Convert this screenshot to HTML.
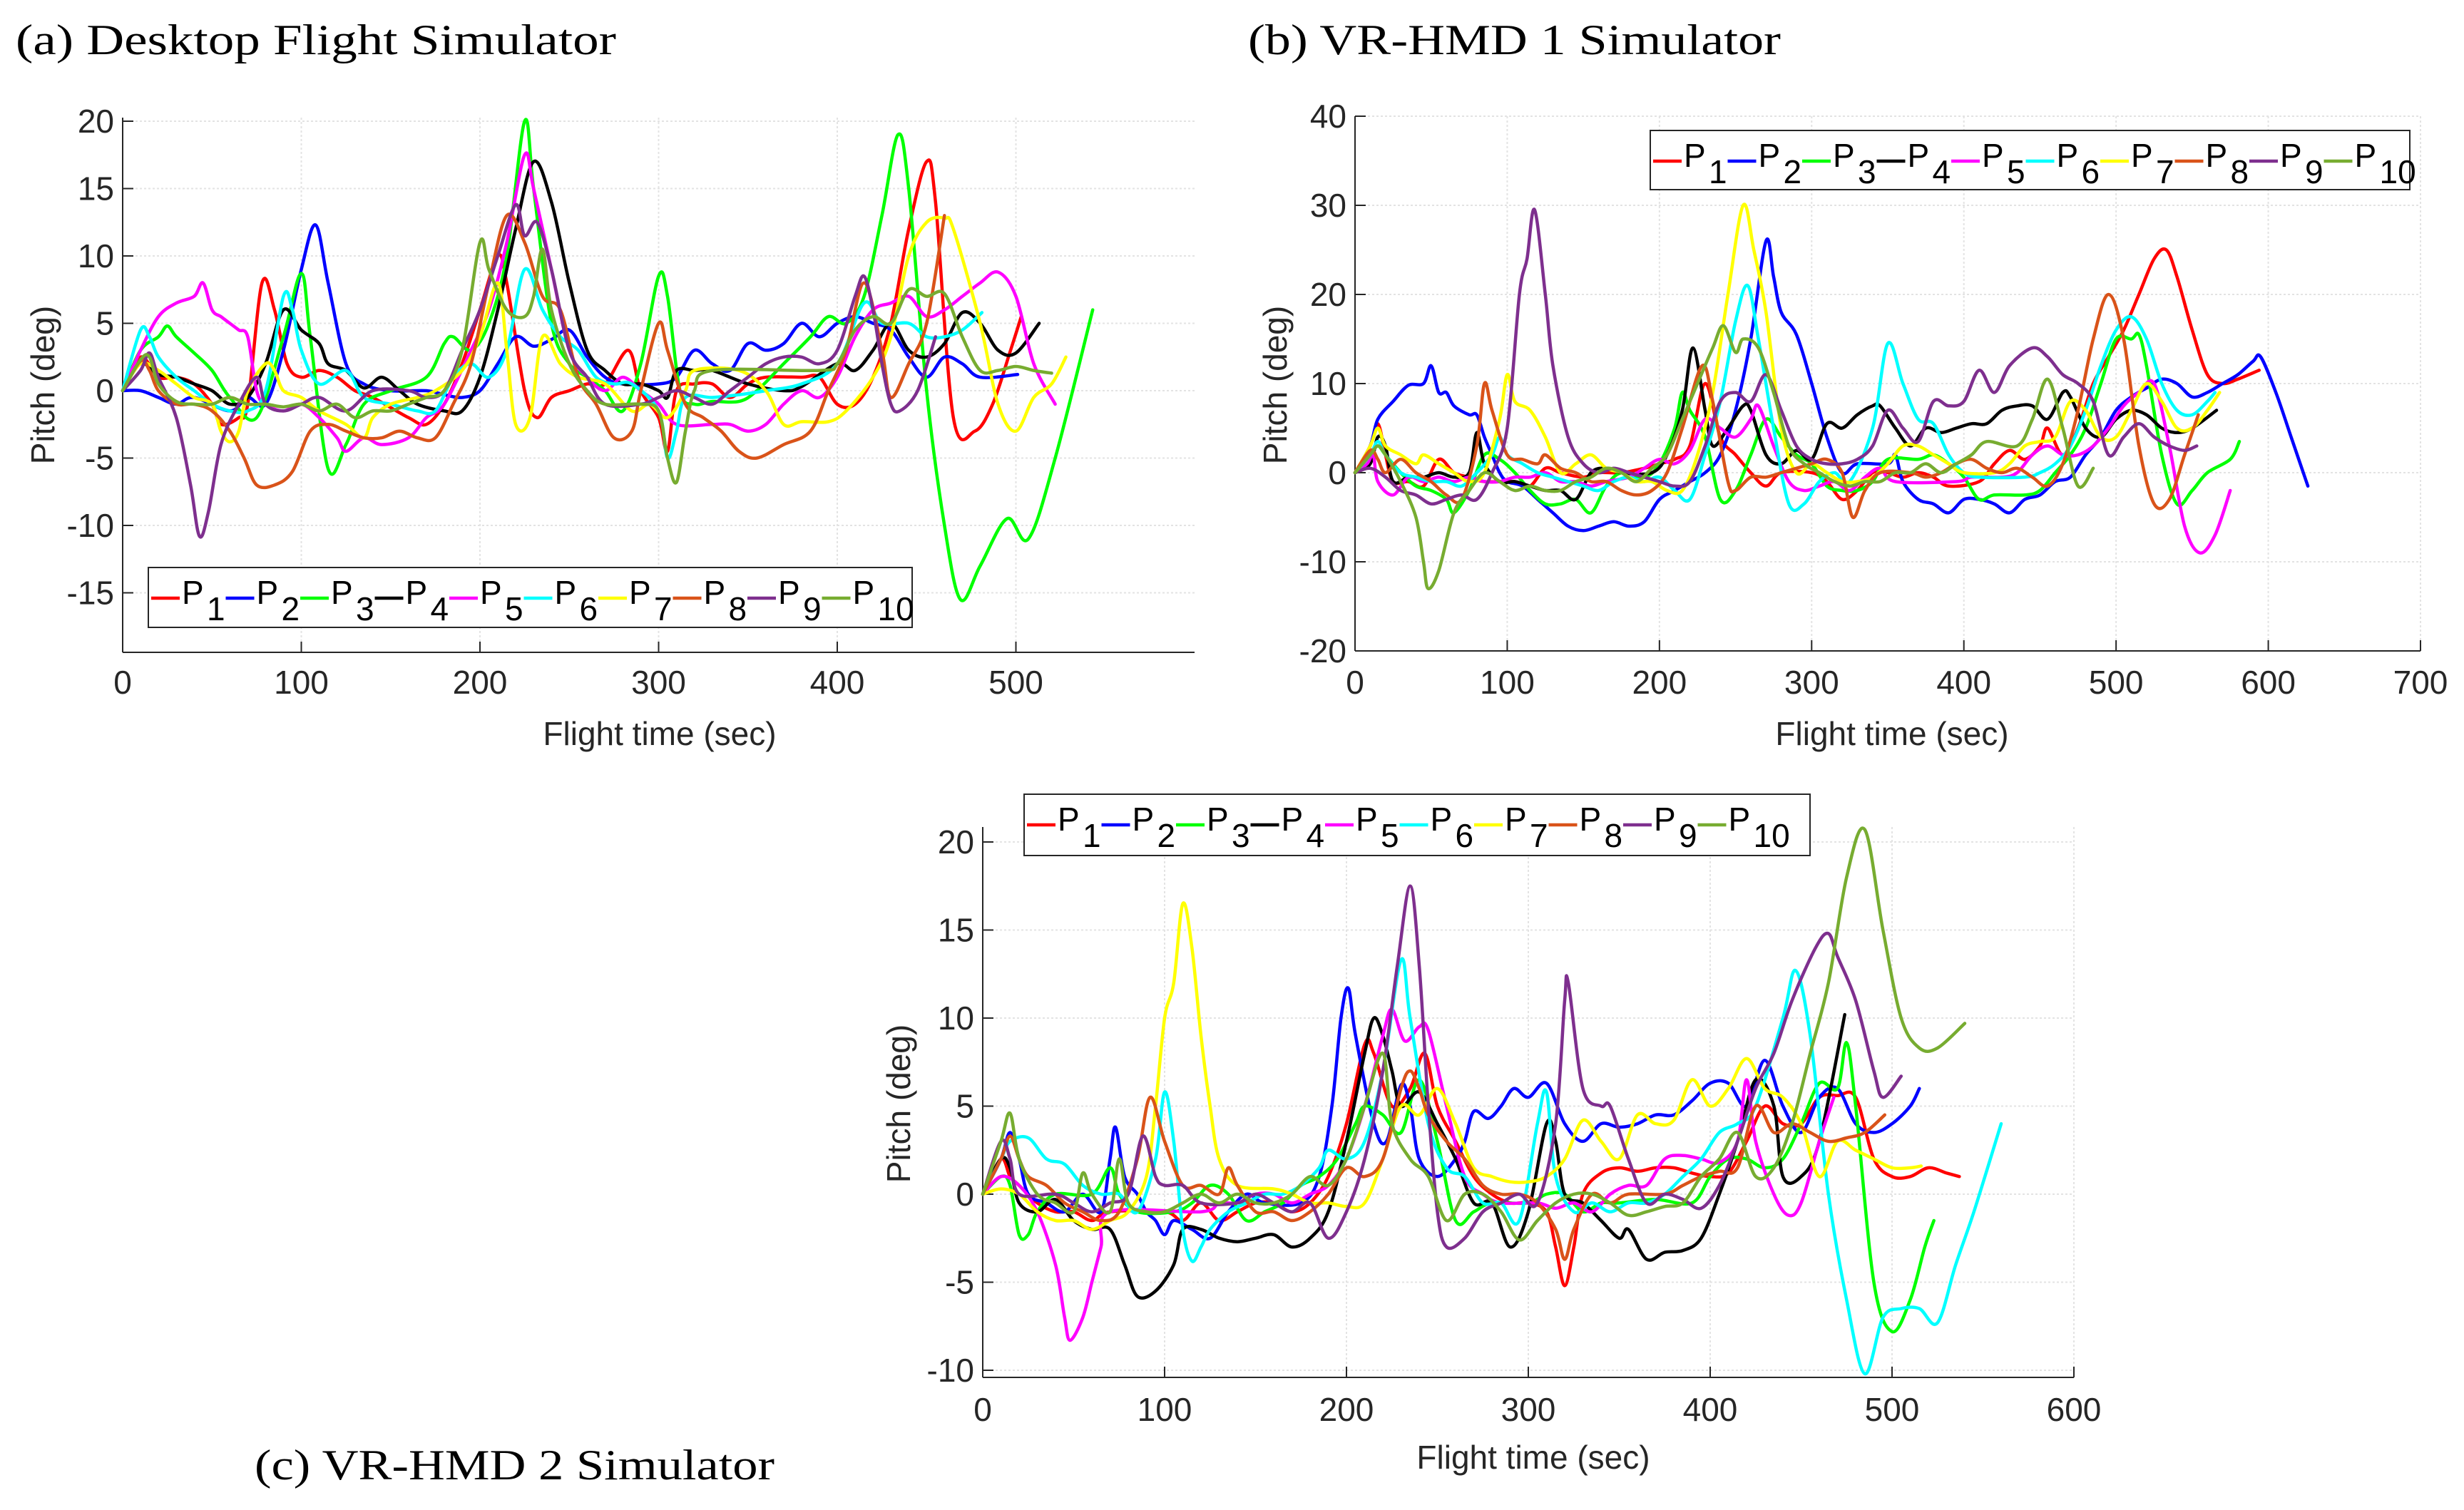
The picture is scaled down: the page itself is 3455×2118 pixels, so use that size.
<!DOCTYPE html>
<html><head><meta charset="utf-8"><style>
html,body{margin:0;padding:0;background:#fff;}
svg{display:block;}
text{font-family:"Liberation Sans",sans-serif;}
.title{font-family:"Liberation Serif",serif;font-size:60px;fill:#000;}
.tick{font-size:46px;fill:#262626;}
.lab{font-size:46px;fill:#262626;}
</style></head><body>
<svg id="fig" width="3455" height="2118" viewBox="0 0 3455 2118" xmlns="http://www.w3.org/2000/svg">
<text class="title" x="22" y="76" textLength="842" lengthAdjust="spacingAndGlyphs">(a) Desktop Flight Simulator</text>
<text class="title" x="1750" y="76" textLength="747" lengthAdjust="spacingAndGlyphs">(b) VR-HMD 1 Simulator</text>
<text class="title" x="357" y="2075" textLength="729" lengthAdjust="spacingAndGlyphs">(c) VR-HMD 2 Simulator</text>
<g id="pa"></g>
<g id="pb"></g>
<g id="pc"></g>
</svg>
<script>
const colors = ["#ff0000","#0000ff","#00ff00","#000000","#ff00ff","#00ffff","#ffff00","#d95319","#7e2f8e","#77ac30"];
const seriesNames = ["1","2","3","4","5","6","7","8","9","10"];
const aXTicks = [0,100,200,300,400,500];
const aYTicks = [-15,-10,-5,0,5,10,15,20];
const bXTicks = [0,100,200,300,400,500,600,700];
const bYTicks = [-20,-10,0,10,20,30,40];
const cXTicks = [0,100,200,300,400,500,600];
const cYTicks = [-10,-5,0,5,10,15,20];

const aP1 = [[0,0],[10,2.5],[20,1],[30,1],[40,0.5],[50,-1],[55,-2.5],[65,-2],[70,-1],[78,8],[85,6],[92,2],[100,1],[110,1.5],[120,1],[130,0],[140,-0.5],[160,-2],[170,-2.5],[180,-1],[190,2],[200,6],[210,10],[215,8],[225,0],[232,-2],[240,-0.5],[250,0],[260,0.5],[270,0.5],[283,3],[290,0],[300,-2],[305,-4.5],[310,0],[320,0.5],[330,0.5],[340,-0.5],[350,0.5],[360,1],[380,1],[390,1],[400,-1],[410,-1],[420,1],[430,5],[440,12],[450,17],[455,14],[465,-2],[477,-3],[487,-1],[497,3],[503,5.5]];
const aP2 = [[0,0],[10,0],[20,-0.5],[30,-1],[40,-0.5],[60,-1.5],[70,-0.5],[80,-1],[90,3],[100,9],[108,12.3],[115,8],[125,2],[135,0.5],[150,0],[170,0],[180,-0.3],[190,-0.5],[200,0],[210,2],[220,4],[230,3.3],[240,3.8],[250,4.5],[260,2.5],[270,1],[280,0.5],[300,0.5],[310,1],[320,3],[330,2],[340,1.5],[350,3.5],[360,3],[370,3.5],[380,5],[390,4],[400,5],[410,5.5],[420,5],[430,4.5],[440,2.5],[450,1],[460,2.5],[470,2],[480,1],[501,1.2]];
const aP3 = [[0,0],[10,3],[20,4],[25,4.8],[30,4],[40,2.8],[50,1.5],[60,-0.5],[75,-2],[90,4],[100,8.7],[105,4],[115,-5.8],[125,-4],[135,-1],[150,0],[170,1],[180,3.5],[185,4],[195,3],[205,5],[215,10],[225,20],[230,15],[240,5],[250,2],[260,1],[270,0],[280,-1.5],[290,2],[300,8.5],[305,7],[312,0],[320,-1],[330,-0.8],[345,-0.8],[355,0],[370,2],[385,4],[395,5.5],[405,5],[415,7],[425,13],[434,19],[440,15],[450,0],[460,-10],[469,-15.5],[480,-13],[495,-9.5],[507,-11],[522,-5],[543,6]];
const aP4 = [[0,0],[10,2],[20,1.2],[30,1],[40,0.5],[50,0],[60,-1],[70,-0.5],[80,2],[90,6],[100,4.5],[110,3.5],[115,2],[125,1.5],[135,0.2],[145,1],[155,0],[165,-1],[180,-1.5],[190,-1.5],[200,1],[210,6],[220,12],[230,17],[240,14],[250,8],[260,3],[270,1.5],[280,0.5],[290,0.5],[300,0],[305,-0.5],[310,1.5],[320,1.5],[330,1.5],[350,0.5],[370,0],[380,0.3],[400,2],[410,1.5],[420,3],[430,5],[440,3],[450,2.5],[460,3.5],[470,5.8],[480,5],[490,3],[500,2.8],[513,5]];
const aP5 = [[0,0],[10,3],[20,5.5],[30,6.5],[40,7],[45,8],[50,6],[55,5.5],[60,5],[65,4.5],[70,4],[75,0],[80,-1],[90,-1.5],[100,-1],[110,-2],[120,-3.5],[125,-4.5],[135,-3.5],[145,-4],[160,-3.5],[170,-2],[180,-1],[195,3],[205,6],[215,11],[225,17.5],[230,15],[240,9],[250,3],[260,1],[270,0],[280,1],[290,0],[300,-1],[310,-2.5],[330,-2.5],[340,-2.5],[350,-3],[360,-2.5],[370,-1],[380,0],[390,-0.5],[400,1],[410,4],[420,6],[430,6.5],[440,7],[450,5.5],[460,6],[470,7],[480,8],[490,8.8],[500,7],[510,2],[522,-1]];
const aP6 = [[0,0],[10,4.5],[15,4],[20,2.5],[30,1],[40,0],[50,-1],[60,-1.5],[70,-1.5],[80,0],[90,7],[95,6],[100,3],[110,0.5],[125,1.5],[135,-0.5],[150,-1],[165,-1.5],[175,-1.5],[185,1],[195,2],[205,1],[215,3],[225,9],[235,6],[245,4],[255,3],[265,1],[275,0.5],[285,0.5],[300,-1.5],[305,-5],[310,-3],[315,-0.5],[330,-0.5],[345,-0.3],[360,0],[380,0.5],[400,2],[415,6.5],[425,5],[440,5],[450,4],[460,4],[470,4.5],[481,5.8]];
const aP7 = [[0,0],[10,2],[20,1.5],[30,0.5],[40,-0.5],[50,-1],[55,-3],[60,-3.8],[65,-3],[70,0],[80,2],[85,1.5],[90,0],[100,-0.5],[110,-1.5],[125,-2.5],[135,-3.5],[140,-2],[150,-1],[165,-0.5],[175,0],[190,1.5],[200,4],[210,8],[215,3],[220,-2.5],[228,-2],[235,4],[245,2],[255,1],[270,0.5],[285,-1.5],[295,-1],[305,-2],[315,0],[320,1.5],[345,1.5],[360,0],[370,-2.5],[380,-2.3],[395,-2.3],[405,-1.5],[420,1],[430,4],[440,10],[450,12.5],[460,12.8],[465,12],[480,5],[490,-1],[500,-3],[510,-0.5],[520,0.5],[528,2.5]];
const aP8 = [[0,0],[10,2.2],[15,1.5],[20,0],[30,-1],[40,-1],[50,-1.5],[60,-3],[68,-5],[75,-7],[85,-7],[95,-6],[105,-3],[115,-2.5],[125,-3],[135,-3.5],[145,-3.5],[155,-3],[165,-3.5],[175,-3.5],[185,-1],[195,2],[205,8],[215,13],[225,11],[235,7],[245,6],[255,1],[265,-1],[275,-3.5],[285,-3],[290,0],[300,5],[305,3],[315,-1],[325,-2],[335,-3],[345,-4.5],[355,-5],[370,-4],[385,-3],[395,0],[405,3],[415,8],[425,3],[430,-0.5],[440,2],[450,5],[460,13]];
const aP9 = [[0,0],[10,1.5],[15,2.8],[20,1],[30,-2],[38,-7],[43,-10.8],[48,-9],[55,-4],[65,-1],[75,1],[80,-1],[90,-1.5],[100,-1],[110,-0.5],[125,-1.5],[140,0],[160,0],[170,-0.5],[180,0],[190,3],[200,6],[210,10],[220,13.8],[225,11.5],[232,12.5],[240,9],[250,3],[260,1],[270,-1],[290,-1],[300,-0.5],[310,0],[320,-0.5],[330,-1],[340,0],[350,1],[360,2],[370,2.5],[380,2.5],[390,2],[400,3],[410,7],[415,8.5],[420,6],[425,2],[430,-1],[435,-1.5],[445,0],[455,4]];
const aP10 = [[0,0],[10,2.3],[15,2.5],[20,0.5],[30,-0.8],[40,-1],[50,-1],[60,-0.5],[70,-1],[80,-1],[90,-1.2],[100,-1],[110,-1.5],[120,-1],[130,-2],[140,-1.5],[150,-1.5],[160,-1],[170,-0.5],[180,0],[190,3],[200,11],[205,9],[215,6],[225,5.5],[230,7],[235,10.5],[240,6],[250,2],[260,0],[270,-1],[290,-1],[300,-1.5],[305,-5],[310,-6.8],[315,-3],[320,0],[330,1.5],[390,1.5],[400,2],[410,4.5],[420,5.5],[430,5],[440,7.5],[450,7],[460,7.2],[470,4],[480,1.5],[490,1.5],[500,1.8],[510,1.5],[520,1.3]];

const bP1 = [[0,0],[10,3],[15,5.5],[20,2],[25,-1],[35,-1],[45,-1.5],[55,1.5],[65,0],[75,-0.5],[85,-1],[105,-1],[115,-1.5],[125,0.5],[135,0],[150,-0.5],[160,0],[175,0],[190,0.5],[200,1],[210,1.5],[220,3],[230,10],[240,4],[250,2],[260,0],[270,-1.5],[280,0],[300,0],[310,-1],[320,-3],[330,-2],[340,0],[350,0],[360,-0.5],[370,0],[380,-0.5],[390,-1.5],[410,-1],[420,1],[430,2.5],[440,1.5],[450,3],[455,5],[465,2],[475,5],[485,10],[495,13],[505,16],[515,20],[525,24],[533,25],[540,22],[550,16],[560,11],[570,10],[580,10.5],[594,11.5]];
const bP2 = [[0,0],[10,3],[15,6],[25,8],[35,9.8],[45,10],[50,12],[55,9],[60,9],[65,7.5],[75,6.5],[80,6.5],[85,4],[90,2],[95,0],[100,-1],[110,-1.5],[120,-3],[130,-4.5],[140,-6],[150,-6.5],[160,-6],[170,-5.5],[180,-6],[190,-5.5],[200,-3],[210,-2],[220,-1],[230,0],[240,2],[250,7],[260,15],[270,26],[275,22],[280,18],[290,15.5],[300,10],[310,4],[320,0],[330,1],[350,1],[355,2],[360,-1],[370,-3],[380,-3.5],[390,-4.5],[400,-3],[410,-3],[420,-3.5],[430,-4.5],[440,-3],[450,-2.5],[460,-1],[470,-0.5],[480,2],[490,4],[500,7],[510,8.5],[520,9.5],[530,10.5],[540,10],[550,8.5],[560,9],[570,10],[580,11],[590,12.5],[595,13],[605,9],[615,4],[626,-1.5]];
const bP3 = [[0,0],[10,2],[15,3],[20,2],[30,0],[40,-1.5],[50,-2],[60,-3],[65,-4.5],[75,-2],[85,2],[95,1.5],[105,0],[115,-2],[125,-3.5],[135,-3.5],[145,-3],[155,-4.5],[165,-1.5],[175,0],[190,-0.5],[200,1],[210,5],[215,9],[220,7],[230,4],[240,-3],[250,-2],[260,2],[270,6],[280,4],[290,2],[300,1],[310,-1.5],[320,-2],[330,-2],[340,-1],[350,1.5],[370,1.5],[380,2],[390,1],[400,-0.5],[410,-3],[420,-2.5],[440,-2.5],[450,-2],[460,0],[470,2],[480,5],[490,10],[500,15],[510,15],[515,15.5],[520,12],[530,2],[540,-3.5],[550,-2],[560,0],[575,1.5],[581,3.5]];
const bP4 = [[0,0],[10,1],[15,4],[20,3],[25,-1],[35,-0.5],[45,-0.5],[55,0],[65,-0.5],[75,0],[80,4.5],[85,1],[95,-1],[105,-1],[115,-1.5],[125,-2],[135,-2],[145,-3],[155,0],[165,0.5],[175,0],[195,0],[205,2],[215,7],[222,14],[230,7],[235,3],[245,5],[255,7.5],[260,7],[270,2],[280,1],[290,2.5],[300,1.5],[310,5.5],[320,5],[330,6.5],[340,7.5],[345,7.5],[355,5],[365,3],[375,5],[385,4.5],[395,5],[405,5.5],[415,5.5],[425,7],[435,7.5],[445,7.5],[455,6],[465,9],[470,8.5],[480,5],[490,4],[500,6],[510,7],[520,6.5],[530,5],[540,4.5],[550,5],[566,7]];
const bP5 = [[0,0],[8,1],[12,2],[15,-1],[25,-2.5],[35,-0.5],[45,-1],[55,-0.5],[65,-1],[75,-0.5],[85,-1],[95,-1],[105,-0.5],[115,-0.5],[125,0],[135,-1],[145,-1],[155,-1.5],[165,-1],[180,-0.5],[190,0.5],[200,1.5],[210,1],[220,2.5],[230,6],[240,5],[250,4],[260,6],[265,7.5],[275,3],[285,-1],[295,-2],[305,-1.5],[315,-1],[325,-2],[335,-0.5],[345,0.5],[355,-1],[395,-1],[405,-0.5],[425,-0.5],[435,0],[445,2],[455,3],[465,2],[475,2],[485,3],[495,5],[505,7.5],[515,9],[525,10],[535,3],[545,-6],[555,-9],[565,-7],[575,-2]];
const bP6 = [[0,0],[10,2],[15,3.5],[20,2],[30,0],[40,-0.5],[50,-1],[60,-1],[70,-1.5],[80,0],[90,2],[95,4],[100,2],[110,1],[120,0],[130,-0.5],[140,-1],[150,-1.5],[160,-2],[170,-1],[180,-0.5],[190,-1],[200,-0.5],[210,-2],[220,-3],[230,2],[240,8],[250,17],[258,21],[265,15],[275,5],[285,-3.5],[295,-3.5],[305,-1],[315,0],[325,-1],[340,5],[350,14.5],[360,10],[370,6],[380,5.5],[390,2],[400,0],[410,-0.5],[440,-0.5],[450,0],[460,1],[470,3],[480,7],[490,12],[500,16],[510,17.5],[520,15],[530,10],[540,7],[550,6.5],[560,8],[565,9]];
const bP7 = [[0,0],[10,3],[15,5],[20,3],[30,2],[40,1],[45,2],[55,1],[65,0],[75,-1],[85,0],[95,6],[100,11],[105,8],[115,7],[125,4],[135,0],[145,1],[155,2],[165,0.5],[175,0],[185,-1],[195,-1],[205,-2],[215,-2],[225,2],[235,9],[245,20],[255,30],[262,25],[270,18],[280,5],[290,0],[300,1],[310,0],[320,-1],[330,-1],[340,-0.5],[350,1],[360,3],[370,3],[380,2],[390,1],[400,0],[420,0],[430,1],[440,3],[450,3.5],[460,4],[470,8],[480,7],[490,4],[500,4],[510,7],[520,10],[530,8],[540,5],[550,5],[560,7],[568,9]];
const bP8 = [[0,0],[10,2.5],[15,1.5],[20,0],[30,1.5],[40,0],[50,-1],[60,-2.5],[70,-3],[80,3],[85,10],[90,7],[100,2],[110,1.5],[120,1],[125,2],[135,0.5],[145,0],[155,-1],[165,-1],[175,-2],[185,-2.5],[195,-2],[205,0],[215,5],[228,12],[235,8],[245,-1],[250,-2],[260,-0.5],[270,-0.5],[280,0],[290,0.5],[300,1],[310,1.5],[320,0],[327,-5],[335,-2],[345,0],[365,0],[375,-0.5],[385,0],[395,1],[405,1.5],[415,0.5],[425,0],[435,0.5],[445,-0.5],[455,-1.5],[465,1],[475,7],[485,15],[495,20],[505,15],[515,3],[525,-3.5],[535,-3],[545,2],[554,6.5]];
const bP9 = [[0,0],[10,0.5],[20,-0.5],[30,-2],[40,-2.5],[50,-3.5],[60,-3],[70,-2.5],[80,-3],[90,0],[100,5],[108,20],[113,24],[118,29.5],[125,20],[130,12],[140,4],[150,1],[160,0],[170,0.5],[180,0],[190,-0.5],[200,-1],[210,-1.5],[220,-1],[230,3],[240,8],[250,9],[260,8],[270,11],[280,7],[290,3],[300,1.5],[310,1],[320,1],[330,1.5],[340,3],[350,7],[360,5],[370,3.5],[380,8],[390,7.5],[400,8],[410,11.5],[420,9],[430,12],[445,14],[455,13],[465,11],[475,10],[485,8],[495,2],[505,4],[515,5.5],[525,4],[535,3],[545,2.5],[553,3]];
const bP10 = [[0,0],[10,2],[15,3],[20,2],[30,-1],[40,-5],[45,-10],[48,-13],[55,-11],[65,-4.5],[75,-2],[85,0],[95,-1],[105,-2],[115,-1.5],[125,-2],[135,-2],[145,-1],[155,-0.5],[165,0.5],[175,0],[185,-1],[195,0.5],[205,2],[215,6],[225,10],[235,14],[242,16.5],[250,13.5],[255,15],[265,14],[275,9],[285,3],[295,1],[305,0],[315,-1],[325,-1.5],[335,-1],[345,-1],[355,0],[365,0],[375,1],[385,0],[395,1],[405,2],[415,3.5],[435,3],[445,6],[455,10.5],[465,5],[475,-1.5],[485,0.5]];

const cP1 = [[0,0],[10,2],[15,1],[20,0.5],[30,-0.5],[40,-1],[50,-1],[60,-1.5],[70,-1],[100,-1],[110,-1.5],[120,-0.5],[130,-1.5],[140,-1],[150,-0.5],[160,-0.5],[170,-1],[180,-0.5],[190,1],[200,4],[210,8.5],[215,8],[225,5],[235,6],[243,8],[250,5],[260,3],[270,1],[280,0],[290,-0.5],[300,-0.5],[310,-1],[315,-3],[320,-5.2],[325,-3],[330,0],[340,1.2],[350,1.5],[360,1.3],[370,1.5],[380,1.5],[390,1.2],[400,1],[410,1.2],[420,3],[430,5],[440,4],[450,4],[460,5.5],[470,5.6],[480,5.5],[490,2],[500,1],[510,1],[520,1.5],[530,1.2],[537,1]];
const cP2 = [[0,0],[10,2],[15,3.5],[20,2],[25,0],[35,-0.5],[45,-1],[55,0],[65,-1],[70,2],[73,3.8],[78,1],[85,0],[90,-1],[95,-1.5],[100,-2.3],[105,-1.5],[115,-2],[125,-2.5],[135,-1],[145,0],[155,-0.5],[175,-0.5],[185,1],[192,5],[197,10],[201,11.7],[205,9],[215,4],[222,3],[230,6.2],[235,5],[240,2],[250,1],[260,2],[265,3],[270,4.7],[278,4.3],[285,5],[292,6],[300,5.5],[310,6.3],[320,4],[330,3],[340,4],[350,3.8],[360,4],[370,4.5],[380,4.5],[390,5.3],[400,6.3],[410,6.3],[420,5],[430,7.6],[440,5],[450,3.5],[460,5.5],[470,6],[480,4],[490,3.5],[500,4],[510,5],[515,6]];
const cP3 = [[0,0],[10,1],[15,0.5],[20,-2.3],[25,-2.3],[30,-1],[40,0],[60,0],[70,1.5],[75,0],[85,-1],[105,-1],[115,-0.5],[125,0.5],[135,0],[145,-1.5],[155,-1],[165,-0.5],[175,0.5],[185,1],[195,2],[205,4],[210,5],[220,4.5],[230,3.5],[240,6.5],[250,3],[260,-1.5],[270,-1],[280,-0.5],[300,-0.5],[310,0],[320,0],[330,-1],[340,-0.5],[350,-0.5],[370,-0.3],[390,-0.5],[400,1],[410,2],[420,2],[430,1.5],[440,2],[450,4],[460,6.3],[470,6],[475,8.6],[480,5],[490,-5],[500,-7.8],[510,-6],[518,-3],[523,-1.5]];
const cP4 = [[0,0],[10,2],[15,1.5],[20,-0.5],[30,-1],[40,-0.3],[50,-1.5],[60,-2],[70,-2],[78,-4],[85,-5.8],[95,-5.5],[105,-4],[110,-2],[120,-2],[130,-2.5],[140,-2.7],[150,-2.5],[160,-2.3],[170,-3],[180,-2.5],[190,-1],[200,3],[210,8],[215,10],[220,9],[225,7],[230,5],[240,5.8],[250,4],[260,2],[270,-0.5],[280,-0.5],[290,-3],[300,-1],[310,4],[315,3],[320,0],[330,-0.5],[340,-1.5],[350,-2.5],[355,-2],[365,-3.7],[375,-3.3],[385,-3.2],[395,-2.5],[405,0],[415,3],[425,6.5],[435,5],[440,1],[450,1],[460,3],[474,10.2]];
const cP5 = [[0,0],[10,1],[20,0.5],[30,-1],[40,-4],[45,-7],[48,-8.3],[55,-7],[60,-5],[65,-3],[70,-1],[120,-1],[130,-0.5],[140,-0.5],[150,0],[160,0],[170,-0.5],[180,0],[190,0.5],[200,2],[210,5],[220,9],[225,10.5],[232,8.7],[240,9.5],[245,9.3],[255,5],[265,1],[275,0],[285,-0.5],[305,-0.5],[315,-0.8],[325,-0.5],[335,-1],[345,0],[355,0.5],[365,0.5],[375,2],[385,2.2],[395,2],[405,1.8],[415,3],[420,6.5],[425,3],[435,0],[443,-1.2],[450,-0.5],[460,3],[468,5.5]];
const cP6 = [[0,0],[10,2],[15,3],[25,3.2],[35,2],[45,1.7],[55,0.5],[65,0],[75,0],[85,-1],[95,2],[100,5.8],[105,3],[110,-2],[115,-3.8],[120,-3],[125,-2],[135,-1],[145,-0.5],[155,0],[165,0],[175,0.5],[185,1.5],[190,2.5],[200,2],[210,3],[220,7],[230,13.3],[235,10],[245,4],[255,1.5],[265,1],[275,-0.5],[285,-0.5],[295,-1.5],[305,4],[310,5.8],[315,1],[325,-1],[335,-0.5],[345,-1],[355,-0.5],[365,-0.5],[375,0],[385,1],[395,2],[405,3.5],[415,4],[425,5],[440,10],[447,12.7],[455,9],[465,0],[475,-6],[485,-10.2],[495,-7],[505,-6.5],[515,-6.5],[525,-7.3],[535,-4],[545,-1],[560,4]];
const cP7 = [[0,0],[10,0.3],[20,0],[30,-1],[40,-1.5],[50,-1.5],[60,-2],[70,-1.5],[80,-1],[90,1],[95,5],[100,10],[105,12],[110,16.5],[115,14],[120,9],[125,5],[130,2],[140,0.5],[160,0.3],[170,0],[180,-0.5],[190,-0.5],[200,-0.7],[210,-0.5],[220,2],[230,5],[240,4.5],[250,6],[260,4],[270,1.5],[280,1],[290,0.7],[300,0.7],[310,1],[320,2],[330,4.2],[340,3],[350,2],[360,4.5],[370,4],[380,4.2],[390,6.5],[400,5],[410,6],[420,7.7],[430,6],[440,5.5],[450,4],[460,1],[470,3],[480,2.5],[490,2],[500,1.5],[510,1.5],[516,1.6]];
const cP8 = [[0,0],[10,2],[15,3.3],[20,2],[25,1],[35,0.5],[45,-0.5],[55,-1],[65,-1.5],[75,-1],[85,2],[92,5.5],[100,3],[110,0.5],[120,0.5],[130,0],[135,1.5],[140,0.5],[150,-1],[160,-1],[170,-1.5],[180,-1],[190,0],[200,1.5],[210,1],[220,2],[230,6],[235,7],[240,6],[245,4.5],[255,3],[265,2],[275,0.5],[285,0],[295,0],[305,-0.5],[315,-2],[320,-3.7],[325,-2],[335,0],[345,-0.5],[355,0],[375,0],[385,0.5],[395,1],[405,1.3],[415,1.5],[425,5],[435,3.5],[445,4],[455,3.5],[465,3],[475,3.2],[485,3.5],[496,4.5]];
const cP9 = [[0,0],[10,3],[15,2],[20,0],[40,0],[50,-0.5],[60,-1],[70,-0.5],[80,0],[88,3.3],[95,1],[100,0.5],[110,0.5],[120,-0.5],[140,-0.5],[150,0],[160,-0.5],[170,-1],[180,-0.5],[190,-2.5],[200,-1],[210,2],[220,7],[228,13],[235,17.5],[240,13],[245,5],[250,-1],[255,-3],[265,-2.5],[275,-1],[285,-0.5],[295,0],[305,-0.5],[315,4],[320,11],[322,12],[330,6],[340,5],[345,5],[355,2],[365,-0.5],[375,0],[385,-0.3],[395,-0.8],[405,0.5],[415,3],[425,6],[435,8],[445,11],[458,14],[465,14.8],[470,13.5],[480,11],[490,7],[495,5.5],[505,6.7]];
const cP10 = [[0,0],[10,3],[15,4.6],[20,2],[30,0],[40,-0.5],[50,-1],[55,1.2],[60,0],[70,-1],[75,2],[80,-0.5],[90,-1],[100,-1],[110,-0.5],[120,0],[130,-0.5],[140,0],[150,-0.5],[160,-0.5],[170,0],[180,1],[190,0.5],[200,2],[210,5],[220,8],[225,4],[235,2],[245,1],[255,-1.5],[265,0],[275,0],[285,-1],[295,-2.6],[305,-1.5],[315,-0.5],[325,0],[335,0],[345,-0.5],[355,-1.2],[365,-1],[375,-0.7],[385,-0.5],[395,1],[405,2],[415,3.5],[425,1],[435,1.5],[445,4],[455,8],[465,12],[475,18],[485,20.7],[495,15],[505,10],[515,8.3],[525,8.3],[540,9.7]];

const NS = "http://www.w3.org/2000/svg";
function mk(tag, attrs, parent){ const e=document.createElementNS(NS,tag); for(const k in attrs) e.setAttribute(k,attrs[k]); parent.appendChild(e); return e; }

function smoothPath(pts){
  let d = "M"+pts[0][0].toFixed(1)+","+pts[0][1].toFixed(1);
  for(let i=0;i<pts.length-1;i++){
    const p0=pts[Math.max(0,i-1)], p1=pts[i], p2=pts[i+1], p3=pts[Math.min(pts.length-1,i+2)];
    const c1x=p1[0]+(p2[0]-p0[0])/6, c1y=p1[1]+(p2[1]-p0[1])/6;
    const c2x=p2[0]-(p3[0]-p1[0])/6, c2y=p2[1]-(p3[1]-p1[1])/6;
    d += " C"+c1x.toFixed(1)+","+c1y.toFixed(1)+" "+c2x.toFixed(1)+","+c2y.toFixed(1)+" "+p2[0].toFixed(1)+","+p2[1].toFixed(1);
  }
  return d;
}

function panel(g, cfg){
  const xS = t => cfg.x0 + (t - cfg.xmin)/(cfg.xmax-cfg.xmin)*(cfg.x1-cfg.x0);
  const yS = v => cfg.yRef0 + (v - cfg.vRef0)/(cfg.vRef1-cfg.vRef0)*(cfg.yRef1-cfg.yRef0);
  const grid = mk("g",{},g);
  
  
  cfg.xticks.forEach(t=>{ if(t>cfg.xmin) mk("line",{x1:xS(t),x2:xS(t),y1:cfg.top,y2:cfg.bottom,stroke:"#e3e3e3","stroke-width":2,"stroke-dasharray":"3,3"},grid); });
  cfg.yticks.forEach(v=>{ const y=yS(v); if(y<cfg.bottom-1) mk("line",{x1:cfg.x0,x2:cfg.x1,y1:y,y2:y,stroke:"#e3e3e3","stroke-width":2,"stroke-dasharray":"3,3"},grid); });
  const ax = mk("g",{},g);
  
  
  mk("line",{x1:cfg.x0,x2:cfg.x0,y1:cfg.top,y2:cfg.bottom,stroke:"#262626","stroke-width":2},ax);
  mk("line",{x1:cfg.x0,x2:cfg.x1,y1:cfg.bottom,y2:cfg.bottom,stroke:"#262626","stroke-width":2},ax);
  cfg.xticks.forEach(t=>{
    const x=xS(t);
    mk("line",{x1:x,x2:x,y1:cfg.bottom,y2:cfg.bottom-15,stroke:"#262626","stroke-width":2},ax);
    const tx=mk("text",{x:x,y:cfg.xtickY,"text-anchor":"middle",class:"tick"},ax); tx.textContent=t;
    
    
  });
  cfg.yticks.forEach(v=>{
    const y=yS(v);
    mk("line",{x1:cfg.x0,x2:cfg.x0+15,y1:y,y2:y,stroke:"#262626","stroke-width":2},ax);
    const tx=mk("text",{x:cfg.x0-12,y:y+16,"text-anchor":"end",class:"tick"},ax); tx.textContent=v;
    
    
  });
  const xl=mk("text",{x:cfg.xlabX,y:cfg.xlabY,"text-anchor":"middle",class:"lab"},g); xl.textContent="Flight time (sec)";
  
  
  const yl=mk("text",{x:0,y:0,"text-anchor":"middle",class:"lab",transform:"translate("+cfg.ylabX+","+cfg.ylabY+") rotate(-90)"},g); yl.textContent="Pitch (deg)";
  
  
  const lines = mk("g",{},g);
  
  
  cfg.series.forEach((s,i)=>{
    const pts = s.map(p=>[xS(p[0]), yS(p[1])]);
    const p = mk("path",{d:smoothPath(pts),fill:"none",stroke:colors[i],"stroke-width":4.5,"stroke-linejoin":"round","stroke-linecap":"round"},lines);
    
    
  });
  const lg = mk("g",{},g);
  
  
  mk("rect",{x:cfg.lgX,y:cfg.lgY,width:cfg.lgW,height:cfg.lgH,fill:"#fff",stroke:"#262626","stroke-width":2},lg);
  seriesNames.forEach((n,i)=>{
    const ex = cfg.lgX + 4 + i*104.5;
    const e = mk("g",{},lg);
    
    
    mk("line",{x1:ex,x2:ex+40,y1:cfg.lgY+43,y2:cfg.lgY+43,stroke:colors[i],"stroke-width":4.5},e);
    const t1=mk("text",{x:ex+43,y:cfg.lgY+51,style:"font-size:46px;fill:#000"},e); t1.textContent="P";
    const t2=mk("text",{x:ex+78,y:cfg.lgY+74,style:"font-size:46px;fill:#000"},e); t2.textContent=n;
  });
}

panel(document.getElementById("pa"),{x0:172,x1:1675,xmin:0,xmax:600,top:165,bottom:915,
  yRef0:548,vRef0:0,yRef1:170,vRef1:20,xticks:aXTicks,yticks:aYTicks,xtickY:973,
  xlabX:925,xlabY:1045,ylabX:76,ylabY:540,series:[aP1,aP2,aP3,aP4,aP5,aP6,aP7,aP8,aP9,aP10],
  lgX:208,lgY:796,lgW:1071,lgH:84});
panel(document.getElementById("pb"),{x0:1900,x1:3394,xmin:0,xmax:700,top:163,bottom:913,
  yRef0:663,vRef0:0,yRef1:163,vRef1:40,xticks:bXTicks,yticks:bYTicks,xtickY:973,
  xlabX:2653,xlabY:1045,ylabX:1804,ylabY:540,series:[bP1,bP2,bP3,bP4,bP5,bP6,bP7,bP8,bP9,bP10],
  lgX:2314,lgY:183,lgW:1065,lgH:83});
panel(document.getElementById("pc"),{x0:1378,x1:2908,xmin:0,xmax:600,top:1160,bottom:1932,
  yRef0:1675,vRef0:0,yRef1:1181,vRef1:20,xticks:cXTicks,yticks:cYTicks,xtickY:1993,
  xlabX:2150,xlabY:2060,ylabX:1276,ylabY:1548,series:[cP1,cP2,cP3,cP4,cP5,cP6,cP7,cP8,cP9,cP10],
  lgX:1436,lgY:1114,lgW:1102,lgH:86});
</script>
</body></html>
